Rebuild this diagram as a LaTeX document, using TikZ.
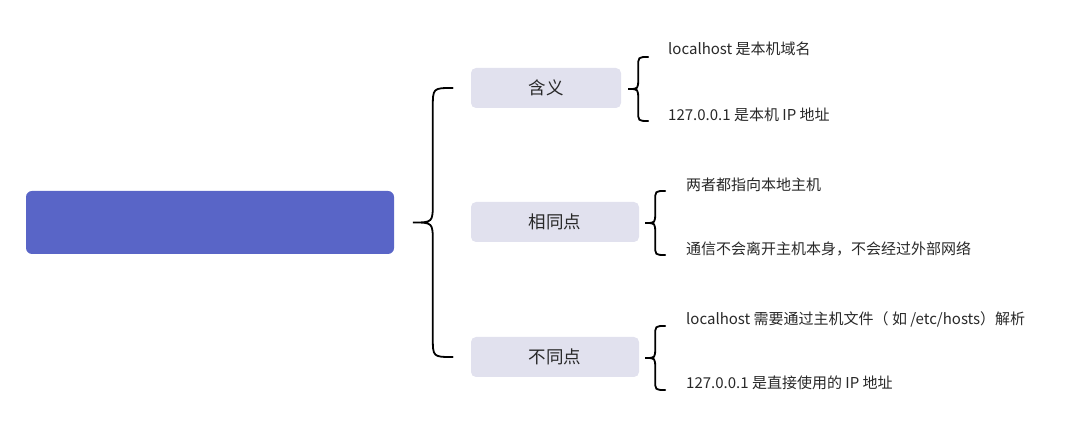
\documentclass[tikz,border=0pt]{standalone}
\usepackage{fontspec}
\setmainfont{Noto Sans CJK SC}
\usepackage{xcolor}
\usetikzlibrary{calc}
\definecolor{rootblue}{RGB}{89,101,199}
\definecolor{catgray}{RGB}{225,225,238}
\definecolor{inkgray}{RGB}{40,40,40}
\tikzset{lbrace/.style={to path={let \p1=(\tikztostart), \p2=(\tikztotarget),
  \p3=($(\tikztostart)!.5!(\tikztotarget)$) in
  .. controls (\x1-#1,\y1) .. (\x1-#1,\y1-#1) -- (\x1-#1,\y3+#1)
  .. controls (\x1-#1,\y3) .. (\x1-2*#1,\y3)
  .. controls (\x1-#1,\y3) .. (\x1-#1,\y3-#1) -- (\x1-#1,\y2+#1)
  .. controls (\x1-#1,\y2) .. (\p2)}}}
\begin{document}
\begin{tikzpicture}[x=1pt,y=-1pt,
  cat/.style={fill=catgray,rounded corners=5pt,minimum height=40pt,
    font=\fontsize{17.5}{20}\selectfont,text=inkgray},
  leaf/.style={anchor=west,inner sep=0pt,font=\fontsize{15}{18}\selectfont,text=inkgray},
  bracepen/.style={line width=1.8pt,line cap=round}]
  \useasboundingbox (0,0) rectangle (1080,438);
  \node[fill=rootblue,rounded corners=6pt,minimum width=368pt,minimum height=63pt] (root) at (210,222.5) {};

  \node[cat,minimum width=150pt] (han) at (546,88) {含义};
  \node[cat,minimum width=168pt] (same) at (555,222) {相同点};
  \node[cat,minimum width=168pt] (diff) at (555,357) {不同点};

  \node[leaf] (han1) at (668,49) {localhost 是本机域名};
  \node[leaf] (han2) at (668,115) {127.0.0.1 是本机 IP 地址};
  \node[leaf] (same1) at (686,185) {两者都指向本地主机};
  \node[leaf] (same2) at (686,249) {通信不会离开主机本身，不会经过外部网络};
  \node[leaf] (diff1) at (686,319) {localhost 需要通过主机文件（ 如 /etc/hosts）解析};
  \node[leaf] (diff2) at (686,383) {127.0.0.1 是直接使用的 IP 地址};

  % main brace
  \coordinate (bt) at ([xshift=-18pt]han.west);
  \coordinate (bb) at ([xshift=-18pt]diff.west);
  \draw[bracepen] (bt) to[lbrace=20pt] (bb);

  % small braces
  \foreach \c/\d in {han/27pt,same/26pt,diff/26pt}
    \draw[bracepen] ([xshift=\d,yshift=31pt]\c.east) to[lbrace=10pt] ([xshift=\d,yshift=-33pt]\c.east);
\end{tikzpicture}
\end{document}
